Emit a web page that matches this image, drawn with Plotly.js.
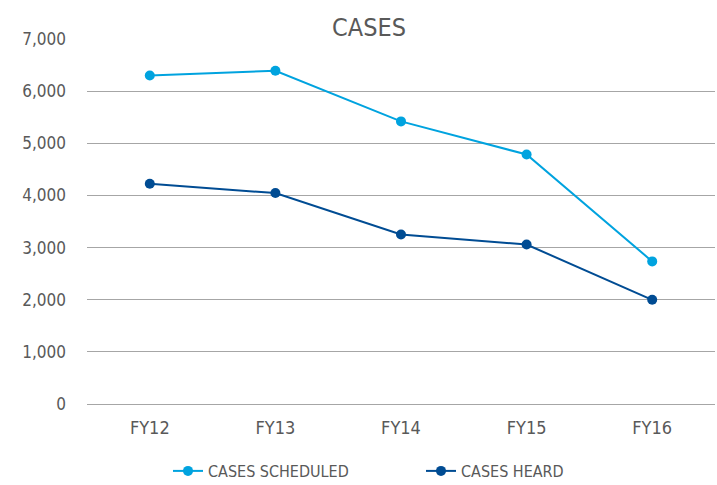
<!DOCTYPE html>
<html>
<head>
<meta charset="utf-8">
<script src="https://cdn.plot.ly/plotly-3.0.1.min.js"></script>
<style>html,body{margin:0;padding:0;background:#fff;}#chart{width:717px;height:485px;}</style>
</head>
<body>
<div id="chart"></div>
<script>
const categories = ["FY12", "FY13", "FY14", "FY15", "FY16"];
const casesScheduled = [6300, 6390, 5420, 4785, 2735];
const casesHeard = [4225, 4045, 3250, 3058, 1998];
const yTickVals = [0, 1000, 2000, 3000, 4000, 5000, 6000, 7000];
const yTickText = ["0", "1,000", "2,000", "3,000", "4,000", "5,000", "6,000", "7,000"];

const FONT = '"DejaVu Sans Condensed", "Liberation Sans Narrow", sans-serif';
const TXT = '#595959';

const traces = [
  {x: categories, y: casesScheduled, name: 'CASES SCHEDULED', type: 'scatter', mode: 'lines+markers',
   line: {color: '#00A3DF', width: 2}, marker: {color: '#00A3DF', size: 10}},
  {x: categories, y: casesHeard, name: 'CASES HEARD', type: 'scatter', mode: 'lines+markers',
   line: {color: '#004C93', width: 2}, marker: {color: '#004C93', size: 10}}
];

const layout = {
  width: 717, height: 485,
  margin: {l: 87, r: 2, t: 39, b: 80.5},
  paper_bgcolor: '#fff', plot_bgcolor: '#fff',
  font: {family: FONT, color: TXT, size: 18},
  title: {text: 'CASES', font: {family: FONT, size: 25, color: TXT},
          xref: 'container', x: 369/717, xanchor: 'center',
          yref: 'container', y: 1 - 27/485, yanchor: 'middle'},
  xaxis: {type: 'category', range: [-0.5, 4.5], showgrid: false, showline: false, zeroline: false,
          ticks: '', tickfont: {size: 18, color: TXT}, ticklabelstandoff: 11, fixedrange: true},
  yaxis: {range: [0, 7000], tickvals: yTickVals, ticktext: yTickText, showgrid: true,
          gridcolor: '#A6A6A6', gridwidth: 1, zeroline: true, zerolinecolor: '#A6A6A6', zerolinewidth: 1,
          showline: false, ticks: '',
          tickfont: {size: 17, color: TXT}, ticklabelstandoff: 20, fixedrange: true},
  showlegend: true,
  legend: {orientation: 'h', xref: 'container', yref: 'container', x: 168/717, xanchor: 'left',
           y: 1 - 471/485, yanchor: 'middle', font: {size: 16, color: TXT},
           entrywidth: 208, entrywidthmode: 'pixels', bgcolor: 'rgba(0,0,0,0)'}
};

Plotly.newPlot('chart', traces, layout, {displayModeBar: false, staticPlot: true});
</script>
</body>
</html>
